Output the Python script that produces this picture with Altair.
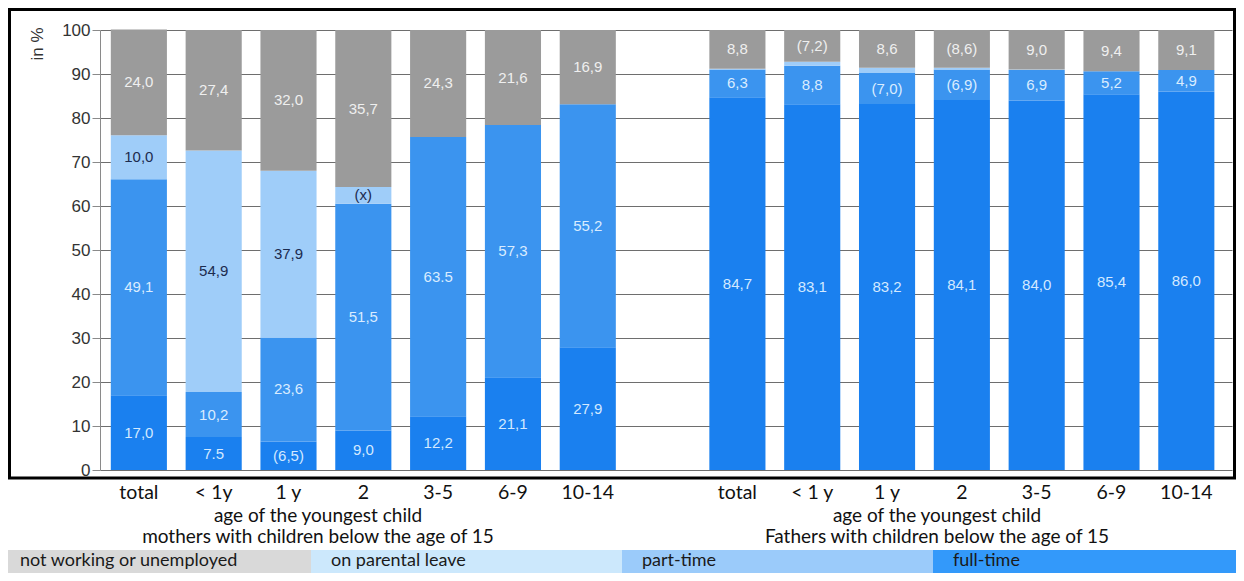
import altair as alt
import pandas as pd

# ---------------- data ----------------
age_mothers = ["total", "< 1y", "1 y", "2", "3-5", "6-9", "10-14"]
age_fathers = ["total", "< 1 y", "1 y", "2", "3-5", "6-9", "10-14"]

series = ["full-time", "part-time", "on parental leave", "not working or unemployed"]

mothers_full = [17.0, 7.5, 6.5, 9.0, 12.2, 21.1, 27.9]
mothers_part = [49.1, 10.2, 23.6, 51.5, 63.5, 57.3, 55.2]
mothers_leave = [10.0, 54.9, 37.9, 3.8, 0.0, 0.0, 0.0]
mothers_notw = [24.0, 27.4, 32.0, 35.7, 24.3, 21.6, 16.9]

fathers_full = [84.7, 83.1, 83.2, 84.1, 84.0, 85.4, 86.0]
fathers_part = [6.3, 8.8, 7.0, 6.9, 6.9, 5.2, 4.9]
fathers_leave = [0.2, 0.9, 1.2, 0.4, 0.1, 0.0, 0.0]
fathers_notw = [8.8, 7.2, 8.6, 8.6, 9.0, 9.4, 9.1]

mothers_full_lbl = ["17,0", "7.5", "(6,5)", "9,0", "12,2", "21,1", "27,9"]
mothers_part_lbl = ["49,1", "10,2", "23,6", "51,5", "63.5", "57,3", "55,2"]
mothers_leave_lbl = ["10,0", "54,9", "37,9", "(x)", "", "", ""]
mothers_notw_lbl = ["24,0", "27,4", "32,0", "35,7", "24,3", "21,6", "16,9"]

fathers_full_lbl = ["84,7", "83,1", "83,2", "84,1", "84,0", "85,4", "86,0"]
fathers_part_lbl = ["6,3", "8,8", "(7,0)", "(6,9)", "6,9", "5,2", "4,9"]
fathers_leave_lbl = ["", "", "", "", "", "", ""]
fathers_notw_lbl = ["8,8", "(7,2)", "8,6", "(8,6)", "9,0", "9,4", "9,1"]

mothers_title = ["age of the youngest child", "mothers with children below the age of 15"]
fathers_title = ["age of the youngest child", "Fathers with children below the age of 15"]

legend_names = ["not working or unemployed", "on parental leave", "part-time", "full-time"]

# ---------------- styles ----------------
bar_colors = ["#1a80ef", "#3b94ef", "#9fcdf9", "#9b9b9b"]
label_colors = ["#d3e9ff", "#d9ecff", "#1c2b4f", "#efefef"]
legend_colors = ["#d9d9d9", "#cce8fc", "#9bcbfa", "#3399fa"]

W, H = 1132, 440

# ---------------- table ----------------
rows = []
keys = []
groups = [
    ("M", age_mothers, [mothers_full, mothers_part, mothers_leave, mothers_notw],
     [mothers_full_lbl, mothers_part_lbl, mothers_leave_lbl, mothers_notw_lbl]),
    ("F", age_fathers, [fathers_full, fathers_part, fathers_leave, fathers_notw],
     [fathers_full_lbl, fathers_part_lbl, fathers_leave_lbl, fathers_notw_lbl]),
]
for gi, (g, ages, vals, lbls) in enumerate(groups):
    if gi == 1:
        keys.append("G: ")
    for i, a in enumerate(ages):
        key = f"{g}:{a}"
        keys.append(key)
        base = 0.0
        for s in range(4):
            v = vals[s][i]
            rows.append({"key": key, "series": series[s], "y0": base, "y1": base + v,
                         "mid": base + v / 2, "label": lbls[s][i], "tc": label_colors[s]})
            base += v
df = pd.DataFrame(rows)

xscale = alt.Scale(type="band", domain=keys, paddingInner=0.25, paddingOuter=0.19, align=0.38)
yscale = alt.Scale(domain=[0, 100], nice=False)

x_enc = alt.X("key:N", scale=xscale, sort=keys, title=None,
              axis=alt.Axis(labelExpr="slice(datum.value, 2)", ticks=False, domain=False,
                            grid=False, labelAngle=0, labelPadding=13, labelFont="Lato",
                            labelFontSize=19.5, labelColor="#111111"))

bars = alt.Chart(df).mark_bar().encode(
    x=x_enc,
    y=alt.Y("y0:Q", scale=yscale,
            axis=alt.Axis(values=list(range(0, 101, 10)), tickSize=8, labelPadding=2,
                          labelFont="Liberation Sans", labelFontSize=17, labelColor="#333333",
                          domainColor="#8a8a8a", tickColor="#8a8a8a", gridColor="#6e6e6e",
                          gridWidth=1, title="in %", titleFont="Liberation Sans",
                          titleFontSize=17, titleFontWeight="normal", titleColor="#333333",
                          titleAngle=270, titleX=-63, titleY=-3, titleAlign="right",
                          titleBaseline="middle")),
    y2="y1:Q",
    color=alt.Color("series:N", scale=alt.Scale(domain=series, range=bar_colors), legend=None),
)

texts = alt.Chart(df).transform_filter("datum.label != ''").mark_text(
    font="Liberation Sans", fontSize=15, baseline="middle", align="center"
).encode(
    x=alt.X("key:N", scale=xscale, sort=keys),
    y=alt.Y("mid:Q", scale=yscale),
    text="label:N",
    color=alt.Color("tc:N", scale=None),
)

main = alt.layer(bars, texts)

one = alt.Data(values=[{}])
frame = alt.Chart(one).mark_rect(filled=False, stroke="black", strokeWidth=3).encode(
    x=alt.value(-90.5), x2=alt.value(1134.5), y=alt.value(-20.5), y2=alt.value(448)
)


def title_line(txt, x, y):
    return alt.Chart(one).mark_text(font="Lato", fontSize=19, color="#111111",
                                    align="center", baseline="middle", text=txt).encode(
        x=alt.value(x), y=alt.value(y))


titles = [
    title_line(mothers_title[0], 218, 486),
    title_line(mothers_title[1], 218, 507),
    title_line(fathers_title[0], 837, 486),
    title_line(fathers_title[1], 837, 507),
]

leg_df = pd.DataFrame({"name": legend_names, "i": list(range(4)),
                       "i2": list(range(1, 5)), "c": legend_colors})
leg_scale = alt.Scale(domain=[0, 4], range=[-100, 1144])
leg_rect = alt.Chart(leg_df).mark_rect().encode(
    x=alt.X("i:Q", scale=leg_scale, axis=None), x2="i2:Q",
    y=alt.value(520), y2=alt.value(543),
    color=alt.Color("c:N", scale=None),
)
leg_text = alt.Chart(leg_df).mark_text(font="Lato", fontSize=18, color="#1a1a1a",
                                       align="left", baseline="middle", dx=20).encode(
    x=alt.X("i:Q", scale=leg_scale, axis=None),
    y=alt.value(531),
    text="name:N",
)

chart = alt.layer(main, frame, *titles, leg_rect, leg_text).resolve_scale(
    x="independent"
).properties(
    width=W, height=H,
    autosize=alt.AutoSizeParams(type="none"),
    padding={"left": 92, "top": 22, "right": 4, "bottom": 103},
).configure_view(stroke=None)

chart.save("out.html", embed_options={"renderer": "svg", "actions": False})
